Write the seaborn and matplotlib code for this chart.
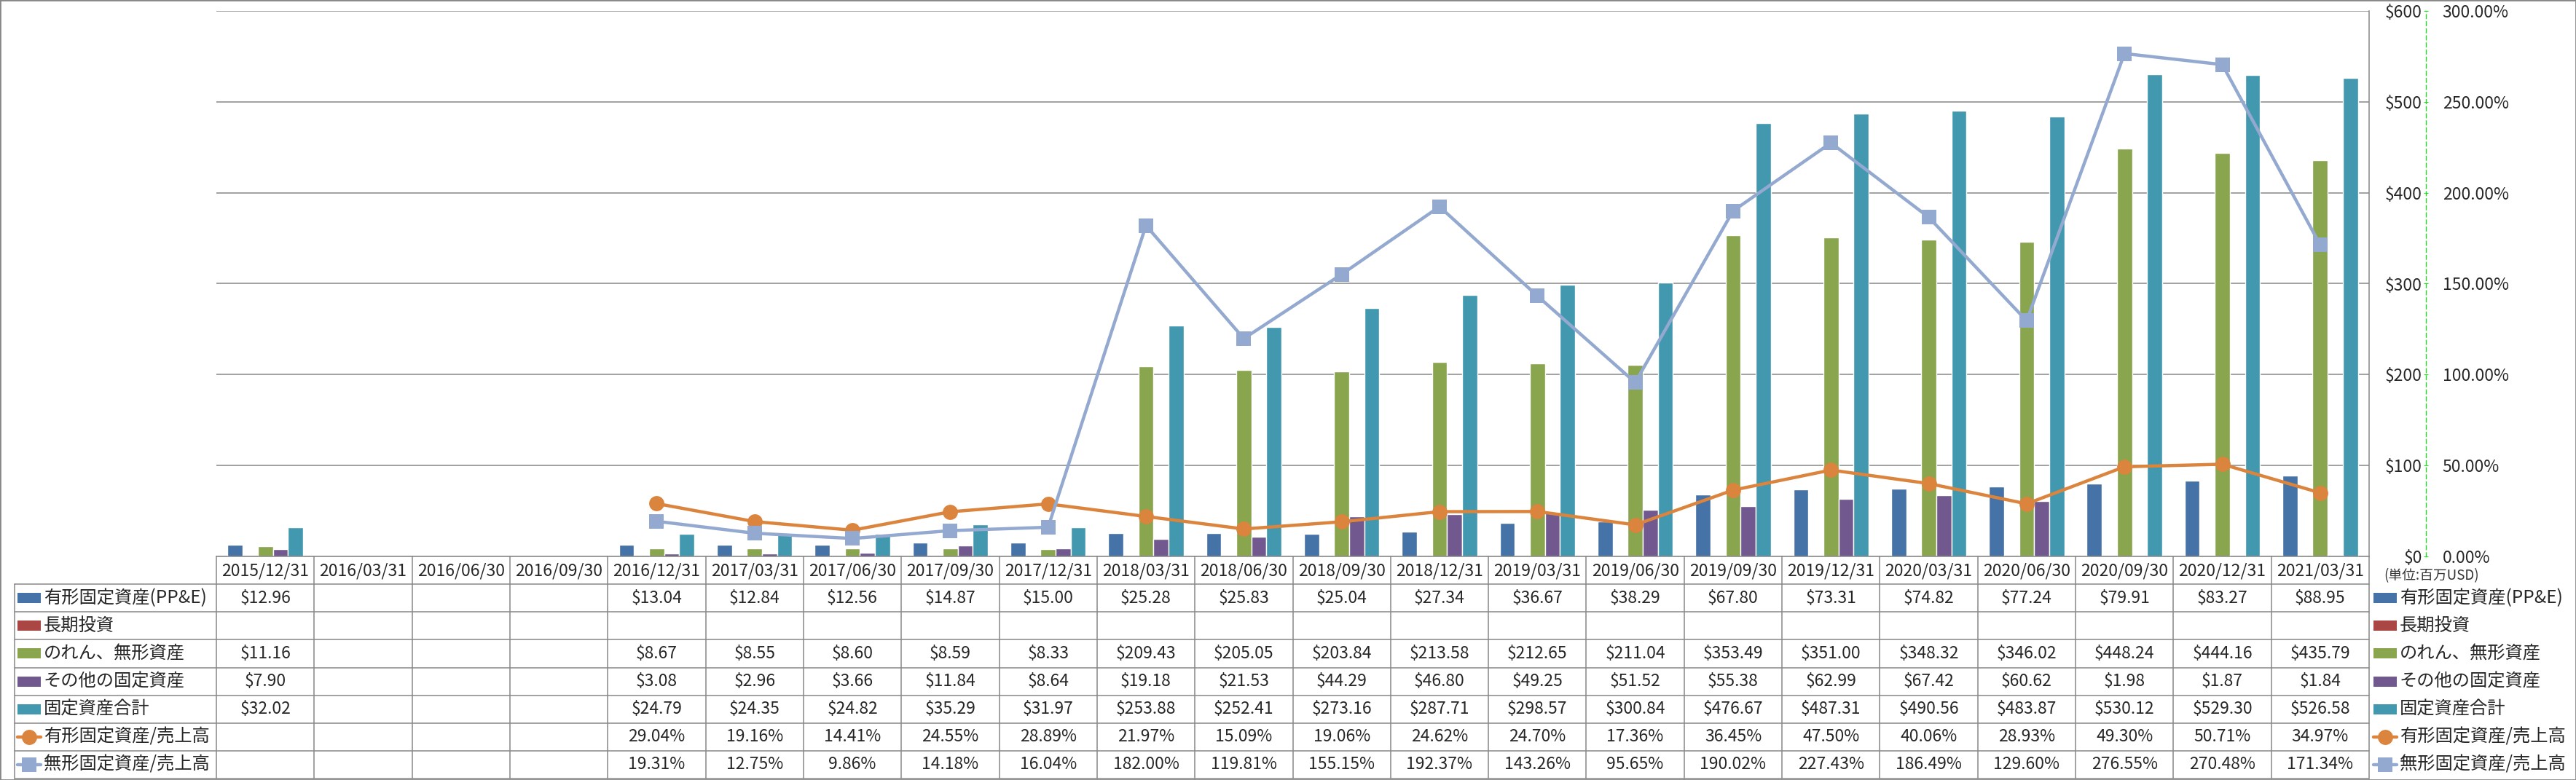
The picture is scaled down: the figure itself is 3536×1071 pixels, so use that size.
import numpy as np
import pandas as pd
import matplotlib
matplotlib.use("Agg")
import matplotlib.pyplot as plt
import seaborn as sns
from matplotlib.patches import Rectangle
from matplotlib.lines import Line2D
from matplotlib.ticker import FuncFormatter

sns.set_style("white")
plt.rcParams["font.family"] = ["Noto Sans CJK JP", "DejaVu Sans"]

nan = np.nan

# ---- data (百万USD / %) ----
dates = ["2015/12/31", "2016/03/31", "2016/06/30", "2016/09/30", "2016/12/31",
         "2017/03/31", "2017/06/30", "2017/09/30", "2017/12/31", "2018/03/31",
         "2018/06/30", "2018/09/30", "2018/12/31", "2019/03/31", "2019/06/30",
         "2019/09/30", "2019/12/31", "2020/03/31", "2020/06/30", "2020/09/30",
         "2020/12/31", "2021/03/31"]

ppe = [12.96, nan, nan, nan, 13.04, 12.84, 12.56, 14.87, 15.00, 25.28, 25.83,
       25.04, 27.34, 36.67, 38.29, 67.80, 73.31, 74.82, 77.24, 79.91, 83.27, 88.95]
long_inv = [nan] * 22
goodwill = [11.16, nan, nan, nan, 8.67, 8.55, 8.60, 8.59, 8.33, 209.43, 205.05,
            203.84, 213.58, 212.65, 211.04, 353.49, 351.00, 348.32, 346.02,
            448.24, 444.16, 435.79]
other = [7.90, nan, nan, nan, 3.08, 2.96, 3.66, 11.84, 8.64, 19.18, 21.53,
         44.29, 46.80, 49.25, 51.52, 55.38, 62.99, 67.42, 60.62, 1.98, 1.87, 1.84]
total = [32.02, nan, nan, nan, 24.79, 24.35, 24.82, 35.29, 31.97, 253.88, 252.41,
         273.16, 287.71, 298.57, 300.84, 476.67, 487.31, 490.56, 483.87, 530.12,
         529.30, 526.58]

ppe_ratio = [nan, nan, nan, nan, 29.04, 19.16, 14.41, 24.55, 28.89, 21.97, 15.09,
             19.06, 24.62, 24.70, 17.36, 36.45, 47.50, 40.06, 28.93, 49.30, 50.71, 34.97]
intang_ratio = [nan, nan, nan, nan, 19.31, 12.75, 9.86, 14.18, 16.04, 182.00, 119.81,
                155.15, 192.37, 143.26, 95.65, 190.02, 227.43, 186.49, 129.60,
                276.55, 270.48, 171.34]

bar_names = ["有形固定資産(PP&E)", "長期投資", "のれん、無形資産", "その他の固定資産", "固定資産合計"]
line_names = ["有形固定資産/売上高", "無形固定資産/売上高"]
bar_colors = ["#4572A7", "#AA4643", "#89A54E", "#71588F", "#4198AF"]
line_colors = ["#DB843D", "#93A9CF"]
line_markers = ["o", "s"]

bar_series = [ppe, long_inv, goodwill, other, total]
line_series = [ppe_ratio, intang_ratio]

# ---- layout (pixels of the 3536x1071 canvas) ----
W, H, DPI = 3536, 1071, 100
PLOT_L, PLOT_R, PLOT_T, PLOT_B = 297, 3252, 15, 764
TABLE_L, TABLE_B = 20, 1069
GRID = "#888888"
NUM_FS, LABEL_FS, TICK_FS = 16.5, 17.5, 16.5
n = len(dates)
cat_px = (PLOT_R - PLOT_L) / n


def xd(px):
    # canvas pixel -> category units
    return (px - PLOT_L) / cat_px - 0.5


fig = plt.figure(figsize=(W / DPI, H / DPI), dpi=DPI)
ax = fig.add_axes([PLOT_L / W, 1 - PLOT_B / H, (PLOT_R - PLOT_L) / W, (PLOT_B - PLOT_T) / H])

bars = pd.DataFrame({
    "date": dates * len(bar_names),
    "series": np.repeat(bar_names, n),
    "value": sum(bar_series, []),
})
sns.barplot(data=bars, x="date", y="value", hue="series", order=dates,
            hue_order=bar_names, palette=bar_colors, width=0.77, saturation=1,
            errorbar=None, legend=False, ax=ax)

ax2 = ax.twinx()
lines = pd.DataFrame({
    "pos": list(range(n)) * 2,
    "series": np.repeat(line_names, n),
    "value": sum(line_series, []),
}).dropna()
sns.lineplot(data=lines, x="pos", y="value", hue="series", style="series",
             hue_order=line_names, style_order=line_names, palette=line_colors,
             markers=line_markers, dashes=False, linewidth=3.2, markersize=15,
             markeredgewidth=0, legend=False, sort=False, ax=ax2)

# primary axis
ax.set_xlim(-0.5, n - 0.5)
ax.set_ylim(0, 600)
ax.set_yticks(range(0, 601, 100))
ax.yaxis.set_major_formatter(FuncFormatter(lambda v, p: f"${v:.0f}"))
ax.yaxis.tick_right()
ax.tick_params(axis="y", length=0, pad=52.5, labelsize=TICK_FS)
for t in ax.yaxis.get_major_ticks():
    t.label2.set_horizontalalignment("right")
ax.set_xticks(range(n), labels=dates)
ax.tick_params(axis="x", length=0, pad=6, labelsize=TICK_FS)
ax.set_xlabel("")
ax.set_ylabel("")
ax.set_axisbelow(True)
ax.yaxis.grid(True, color=GRID, lw=1.1)
ax.xaxis.grid(False)
for s in ["left", "top"]:
    ax.spines[s].set_visible(False)
for s in ["right", "bottom"]:
    ax.spines[s].set_color(GRID)
    ax.spines[s].set_linewidth(1.1)

# secondary axis (ratios)
ax2.set_xlim(-0.5, n - 0.5)
ax2.set_ylim(0, 300)
ax2.set_yticks(range(0, 301, 50))
ax2.yaxis.set_major_formatter(FuncFormatter(lambda v, p: f"{v:.2f}%"))
ax2.set_ylabel("")
for s in ["left", "top", "bottom"]:
    ax2.spines[s].set_visible(False)
ax2.spines["right"].set_position(("outward", 56))
ax2.spines["right"].set_color("#22DD22")
ax2.spines["right"].set_linestyle((0, (4, 3)))
ax2.spines["right"].set_linewidth(1)
ax2.tick_params(axis="y", direction="inout", length=5, color="#22DD22",
                pad=14, labelsize=TICK_FS)

# ---- data table under the plot ----
tax = fig.add_axes([PLOT_L / W, 1 - TABLE_B / H, (PLOT_R - PLOT_L) / W, (TABLE_B - PLOT_B) / H])
tax.set_xlim(-0.5, n - 0.5)
tax.set_ylim(8, 0)
tax.axis("off")
x0 = xd(TABLE_L)

for r in range(1, 9):
    tax.plot([x0, n - 0.5], [r, r], color=GRID, lw=1.1, clip_on=False)
for k in range(n + 1):
    tax.plot([k - 0.5, k - 0.5], [0, 8], color=GRID, lw=1.1, clip_on=False)
tax.plot([x0, x0], [1, 8], color=GRID, lw=1.1, clip_on=False)

rows = bar_series + line_series
fmts = ["${:.2f}"] * 5 + ["{:.2f}%"] * 2
for r, (vals, fmt) in enumerate(zip(rows, fmts), start=1):
    for i, v in enumerate(vals):
        if not np.isnan(v):
            tax.text(i, r + 0.5, fmt.format(v), ha="center", va="center",
                     fontsize=NUM_FS, clip_on=False)

row_h = (TABLE_B - PLOT_B) / 8
sw_h = 14 / row_h


def legend_key(x_left, x_right, r, idx):
    yc = r + 0.5
    if idx < 5:
        tax.add_patch(Rectangle((x_left, yc - sw_h / 2), x_right - x_left, sw_h,
                                color=bar_colors[idx], clip_on=False, lw=0))
    else:
        j = idx - 5
        tax.add_line(Line2D([x_left, x_right], [yc, yc], color=line_colors[j], lw=3.2,
                            clip_on=False))
        tax.add_line(Line2D([(x_left + x_right) / 2], [yc], color=line_colors[j],
                            marker=line_markers[j], markersize=15, markeredgewidth=0,
                            clip_on=False))


names = bar_names + line_names
for idx, name in enumerate(names):
    r = idx + 1
    # left table labels
    legend_key(xd(24), xd(56), r, idx)
    tax.text(xd(60), r + 0.5, name, ha="left", va="center", fontsize=LABEL_FS, clip_on=False)
    # right legend
    legend_key(xd(3258), xd(3290), r, idx)
    tax.text(xd(3294), r + 0.5, name, ha="left", va="center", fontsize=LABEL_FS, clip_on=False)

tax.text(xd(3272), (791 - PLOT_B) / row_h, "(単位:百万USD)", ha="left", va="center",
         fontsize=13.5, color="#333333", clip_on=False)

# chart frame
fig.add_artist(Rectangle((0, 0), 1, 1, transform=fig.transFigure, fill=False,
                         edgecolor=GRID, lw=2))

fig.savefig("out.png", dpi=DPI)
